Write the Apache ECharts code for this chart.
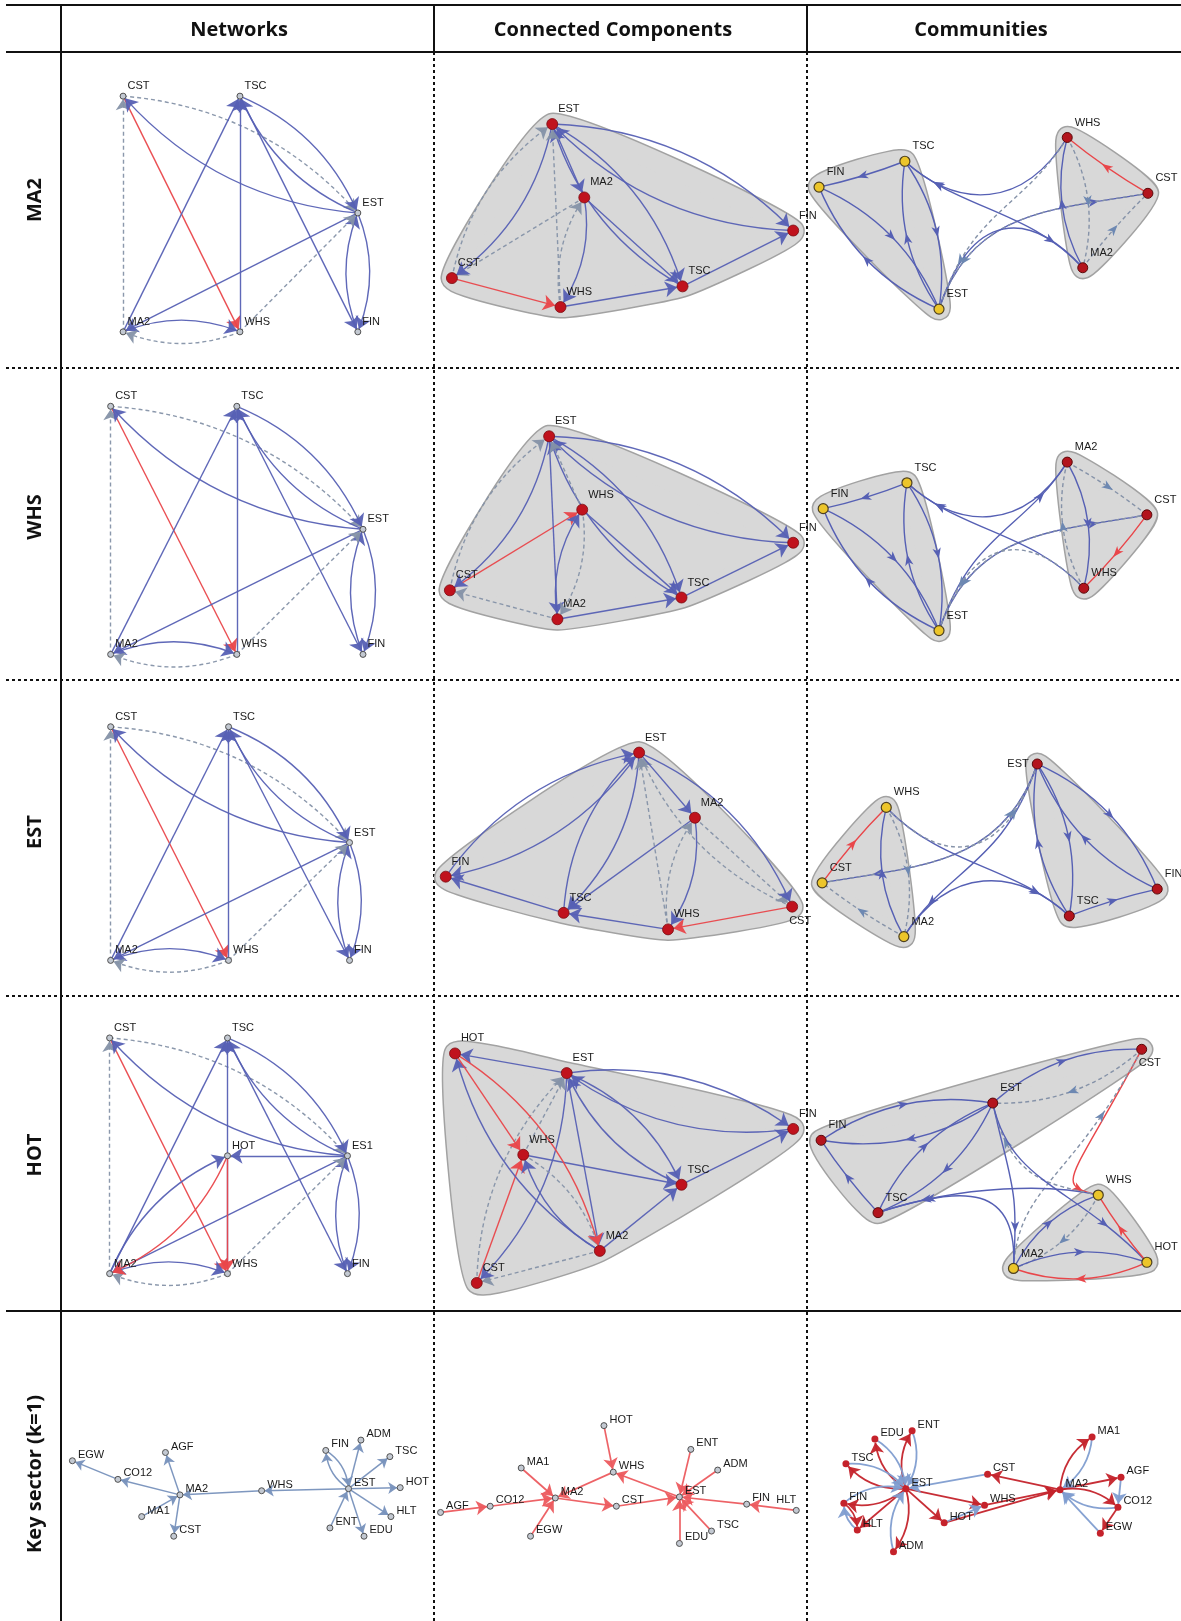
<!DOCTYPE html>
<html>
<head>
<meta charset="utf-8">
<script src="https://cdn.jsdelivr.net/npm/echarts@6/dist/echarts.min.js"></script>
<style>
  html, body { margin: 0; padding: 0; background: #fff; }
  #chart { width: 1181px; height: 1621px; }
</style>
</head>
<body>
<div id="chart"></div>
<script>

const columnTitles = ['Networks', 'Connected Components', 'Communities'];
const rowTitles = ['MA2', 'WHS', 'EST', 'HOT', 'Key sector (k=1)'];

// one network, drawn three ways per row: [source, target, kind]
const baseEdges = [
  ['CST', 'WHS', 'red'],
  ['MA2', 'CST', 'dash'],
  ['EST', 'CST', 'blue'],
  ['CST', 'EST', 'dash'],
  ['MA2', 'TSC', 'blue'],
  ['WHS', 'TSC', 'blue'],
  ['TSC', 'EST', 'blue'],
  ['EST', 'TSC', 'blue'],
  ['TSC', 'FIN', 'blue'],
  ['EST', 'FIN', 'blue'],
  ['FIN', 'EST', 'blue'],
  ['EST', 'MA2', 'blue'],
  ['WHS', 'EST', 'dash'],
  ['MA2', 'WHS', 'blue'],
  ['WHS', 'MA2', 'dash']
];
const hotExtraEdges = [
  ['EST', 'HOT', 'blue'],
  ['MA2', 'HOT', 'blue'],
  ['HOT', 'MA2', 'red'],
  ['HOT', 'WHS', 'red']
];

// Networks column
const netMA2Nodes = [['CST', 119, 93], ['TSC', 232, 93], ['EST', 346, 206], ['MA2', 119, 321], ['WHS', 232, 321], ['FIN', 346, 321]];
const netWHSNodes = [['CST', 107, 393], ['TSC', 229, 393], ['EST', 351, 512], ['MA2', 107, 633], ['WHS', 229, 633], ['FIN', 351, 633]];
const netESTNodes = [['CST', 107, 703], ['TSC', 221, 703], ['EST', 338, 815], ['MA2', 107, 929], ['WHS', 221, 929], ['FIN', 338, 929]];
const netHOTNodes = [['CST', 106, 1004], ['TSC', 220, 1004], ['HOT', 220, 1118], ['EST', 336, 1118], ['MA2', 106, 1232], ['WHS', 220, 1232], ['FIN', 336, 1232]];

// Connected Components column
const ccMA2Nodes = [['EST', 534, 120], ['MA2', 565, 191], ['CST', 437, 269], ['WHS', 542, 297], ['TSC', 660, 277], ['FIN', 767, 223]];
const ccWHSNodes = [['EST', 531, 422], ['WHS', 563, 493], ['CST', 435, 571], ['MA2', 539, 599], ['TSC', 659, 578], ['FIN', 767, 525]];
const ccESTNodes = [['EST', 618, 728], ['MA2', 672, 791], ['FIN', 431, 848], ['TSC', 545, 883], ['WHS', 646, 899], ['CST', 766, 877]];
const ccHOTNodes = [['HOT', 440, 1019], ['EST', 548, 1038], ['FIN', 767, 1092], ['WHS', 506, 1117], ['TSC', 659, 1146], ['MA2', 580, 1210], ['CST', 461, 1241]];

// Communities column: groups are [yellow community, red community]
const comMA2Nodes = [['FIN', 792, 181], ['TSC', 875, 156], ['EST', 908, 299], ['WHS', 1032, 133], ['CST', 1110, 187], ['MA2', 1047, 259]];
const comMA2Groups = [['FIN', 'TSC', 'EST'], ['WHS', 'CST', 'MA2']];
const comWHSNodes = [['FIN', 796, 492], ['TSC', 877, 467], ['EST', 908, 610], ['MA2', 1032, 447], ['CST', 1109, 498], ['WHS', 1048, 569]];
const comWHSGroups = [['FIN', 'TSC', 'EST'], ['MA2', 'CST', 'WHS']];
const comESTNodes = [['WHS', 857, 781], ['CST', 795, 854], ['MA2', 874, 906], ['EST', 1003, 739], ['TSC', 1034, 886], ['FIN', 1119, 860]];
const comESTGroups = [['WHS', 'CST', 'MA2'], ['EST', 'TSC', 'FIN']];
const comHOTNodes = [['CST', 1104, 1015], ['EST', 960, 1067], ['FIN', 794, 1103], ['TSC', 849, 1173], ['WHS', 1062, 1156], ['HOT', 1109, 1221], ['MA2', 980, 1227]];
const comHOTGroups = [['WHS', 'HOT', 'MA2'], ['CST', 'EST', 'FIN', 'TSC']];

// Key sector (k=1) row
const keyNetNodes = [['EGW', 70, 1413], ['CO12', 114, 1431], ['AGF', 160, 1405], ['MA2', 174, 1446], ['MA1', 137, 1467], ['CST', 168, 1486], ['WHS', 253, 1442],
  ['EST', 337, 1440], ['FIN', 315, 1403], ['ADM', 349, 1393], ['TSC', 377, 1409], ['HOT', 387, 1439], ['HLT', 378, 1467], ['EDU', 352, 1486], ['ENT', 319, 1478]];
const keyNetEdges = [
  ['CO12', 'EGW', 'steel'], ['MA2', 'CO12', 'steel'], ['MA2', 'AGF', 'steel'], ['MA1', 'MA2', 'steel'], ['MA2', 'CST', 'steel'],
  ['WHS', 'MA2', 'steel'], ['EST', 'WHS', 'steel'], ['EST', 'FIN', 'steel'], ['FIN', 'EST', 'steel'], ['EST', 'ADM', 'steel'],
  ['EST', 'TSC', 'steel'], ['EST', 'HOT', 'steel'], ['EST', 'HLT', 'steel'], ['EST', 'EDU', 'steel'], ['ENT', 'EST', 'steel']
];
const keyCCNodes = [['AGF', 426, 1463], ['CO12', 474, 1457], ['MA1', 504, 1420], ['MA2', 537, 1449], ['EGW', 513, 1486], ['HOT', 584, 1379], ['WHS', 593, 1424],
  ['CST', 596, 1457], ['EST', 657, 1448], ['ENT', 668, 1402], ['ADM', 694, 1422], ['FIN', 722, 1455], ['HLT', 770, 1461], ['TSC', 688, 1481], ['EDU', 657, 1493]];
const keyCCEdges = [
  ['AGF', 'CO12', 'pink'], ['CO12', 'MA2', 'pink'], ['MA1', 'MA2', 'pink'], ['EGW', 'MA2', 'pink'], ['WHS', 'MA2', 'pink'],
  ['MA2', 'CST', 'pink'], ['CST', 'EST', 'pink'], ['EST', 'WHS', 'pink'], ['HOT', 'WHS', 'pink'], ['ENT', 'EST', 'pink'],
  ['ADM', 'EST', 'pink'], ['FIN', 'EST', 'pink'], ['HLT', 'FIN', 'pink'], ['TSC', 'EST', 'pink'], ['EDU', 'EST', 'pink']
];
const keyComNodes = [['ENT', 882, 1384], ['EDU', 846, 1392], ['TSC', 818, 1416], ['FIN', 816, 1454], ['HLT', 829, 1480], ['ADM', 864, 1501], ['EST', 876, 1440],
  ['HOT', 913, 1473], ['WHS', 952, 1456], ['CST', 955, 1426], ['MA2', 1025, 1441], ['MA1', 1056, 1390], ['AGF', 1084, 1429], ['CO12', 1081, 1458], ['EGW', 1064, 1483]];
const keyComEdges = [
  ['EST', 'ENT', 'crimson'], ['EST', 'EDU', 'crimson'], ['EST', 'TSC', 'crimson'], ['EST', 'FIN', 'crimson'], ['EST', 'HLT', 'crimson'],
  ['EST', 'ADM', 'crimson'], ['EST', 'HOT', 'crimson'], ['EST', 'WHS', 'crimson'], ['HOT', 'MA2', 'crimson'], ['WHS', 'MA2', 'crimson'],
  ['MA2', 'CST', 'crimson'], ['MA2', 'MA1', 'crimson'], ['MA2', 'AGF', 'crimson'], ['MA2', 'CO12', 'crimson'], ['CO12', 'EGW', 'crimson'],
  ['FIN', 'HLT', 'crimson'],
  ['ENT', 'EST', 'ice'], ['EDU', 'EST', 'ice'], ['TSC', 'EST', 'ice'], ['FIN', 'EST', 'ice'], ['HLT', 'FIN', 'ice'], ['ADM', 'EST', 'ice'],
  ['CST', 'EST', 'ice'], ['HOT', 'WHS', 'ice'], ['MA1', 'MA2', 'ice'], ['AGF', 'CO12', 'ice'], ['EGW', 'MA2', 'ice'], ['CO12', 'MA2', 'ice']
];

// ---- styling ----
const kindStyle = {
  blue:    { color: '#5660b4', width: 1.4, type: 'solid', arrow: 12 },
  dash:    { color: '#8592a8', width: 1.4, type: [4, 3], arrow: 11 },
  red:     { color: '#e9464a', width: 1.4, type: 'solid', arrow: 12 },
  steel:   { color: '#7791bc', width: 1.5, type: 'solid', arrow: 9 },
  pink:    { color: '#ec5a5e', width: 1.7, type: 'solid', arrow: 11 },
  crimson: { color: '#c4232b', width: 1.8, type: 'solid', arrow: 11 },
  ice:     { color: '#7f9dd0', width: 1.8, type: 'solid', arrow: 11 }
};
const labelSpots = {
  ccEST: { CST: 'below' },
  comEST: { EST: 'left' },
  comHOT: { CST: 'below' },
  keyCC: { HLT: 'aboveLeft' }
};
const labelTexts = { netHOT: { EST: 'ES1' } };
const FONT = 'Liberation Sans, Arial, sans-serif';

const hollow = { color: '#c3c9d2', borderColor: '#505050', borderWidth: 1 };
const looks = {
  net: { size: 6, item: hollow, gap: 1, lift: -10, bend: 0.2 },
  cc: { size: 11, item: { color: '#c0121d', borderColor: '#7a0c12', borderWidth: 0.8 }, gap: 0, lift: -15, bend: 0.2 },
  com: { size: 10, item: {}, gap: 2, lift: -15, bend: 0.2 },
  key: { size: 6, item: hollow, gap: 2, lift: -6, bend: 0.25 },
  keyCom: { size: 7, item: { color: '#c5222b' }, gap: 2, lift: -6, bend: 0.25 }
};
const groupColors = [
  { color: '#ecc52a', borderColor: '#4d4020', borderWidth: 1.2 },
  { color: '#b3141d', borderColor: '#5a0a0a', borderWidth: 1 }
];

function hasReverse(edges, e) {
  return edges.some(o => o[0] === e[1] && o[1] === e[0]);
}

function spotLabel(spot) {
  if (spot === 'left') return { position: 'left', distance: 3, offset: [0, 0] };
  if (spot === 'below') return { position: 'bottom', distance: 3, offset: [8, 0] };
  if (spot === 'aboveLeft') return { position: 'top', distance: 1, offset: [-10, 0] };
  return undefined;
}

function graphSeries(key, nodes, edges, look, colorOf) {
  const spots = labelSpots[key] || {};
  const texts = labelTexts[key] || {};
  return {
    type: 'graph',
    coordinateSystem: 'cartesian2d',
    z: 3,
    silent: true,
    animation: false,
    symbol: 'circle',
    symbolSize: look.size,
    itemStyle: look.item,
    edgeSymbol: ['none', 'arrow'],
    lineStyle: { opacity: 0.95 },
    label: {
      show: true, position: 'right', distance: look.gap, offset: [0, look.lift],
      fontSize: 11, color: '#1a1a1a', fontFamily: FONT,
      formatter: p => texts[p.name] || p.name
    },
    data: nodes.map(n => ({
      name: n[0],
      value: [n[1], n[2]],
      label: spotLabel(spots[n[0]]),
      itemStyle: colorOf ? colorOf(n[0]) : undefined
    })),
    links: edges.map(e => {
      const s = kindStyle[e[2]];
      return {
        source: e[0], target: e[1], symbolSize: [0, s.arrow],
        lineStyle: { color: s.color, width: s.width, type: s.type, curveness: hasReverse(edges, e) ? look.bend : 0 }
      };
    })
  };
}

// ---- community rows: hulls and bundled edges ----
const comRows = [
  { key: 'comMA2', nodes: comMA2Nodes, groups: comMA2Groups, edges: baseEdges },
  { key: 'comWHS', nodes: comWHSNodes, groups: comWHSGroups, edges: baseEdges },
  { key: 'comEST', nodes: comESTNodes, groups: comESTGroups, edges: baseEdges },
  { key: 'comHOT', nodes: comHOTNodes, groups: comHOTGroups, edges: baseEdges.concat(hotExtraEdges) }
];

const hullItems = [];
[ccMA2Nodes, ccWHSNodes, ccESTNodes, ccHOTNodes].forEach(nodes => hullItems.push(nodes.map(n => [n[1], n[2]])));

const comEdgeItems = [];
comRows.forEach(r => {
  const pos = {};
  r.nodes.forEach(n => { pos[n[0]] = [n[1], n[2]]; });
  const groupOf = name => r.groups.findIndex(g => g.includes(name));
  const cents = r.groups.map(g => {
    hullItems.push(g.map(name => pos[name]));
    const sx = g.reduce((a, name) => a + pos[name][0], 0) / g.length;
    const sy = g.reduce((a, name) => a + pos[name][1], 0) / g.length;
    return [sx, sy];
  });
  const mid = [(cents[0][0] + cents[1][0]) / 2, (cents[0][1] + cents[1][1]) / 2];
  r.edges.forEach(e => comEdgeItems.push({
    from: pos[e[0]], to: pos[e[1]], kind: e[2],
    inter: groupOf(e[0]) !== groupOf(e[1]),
    rev: hasReverse(r.edges, e),
    center: mid
  }));
});

function convexHull(pts) {
  const p = pts.slice().sort((a, b) => a[0] - b[0] || a[1] - b[1]);
  const cross = (o, a, b) => (a[0] - o[0]) * (b[1] - o[1]) - (a[1] - o[1]) * (b[0] - o[0]);
  const lower = [];
  for (const q of p) {
    while (lower.length >= 2 && cross(lower[lower.length - 2], lower[lower.length - 1], q) <= 0) lower.pop();
    lower.push(q);
  }
  const upper = [];
  for (const q of p.slice().reverse()) {
    while (upper.length >= 2 && cross(upper[upper.length - 2], upper[upper.length - 1], q) <= 0) upper.pop();
    upper.push(q);
  }
  upper.pop();
  lower.pop();
  return lower.concat(upper);
}

function arrowHead(pt, tan, color) {
  const len = Math.hypot(tan[0], tan[1]) || 1;
  const d = [tan[0] / len, tan[1] / len];
  const n = [-d[1], d[0]];
  const L = 5.5, Wd = 4.2;
  return {
    type: 'polygon',
    shape: { points: [
      [pt[0] + d[0] * L, pt[1] + d[1] * L],
      [pt[0] - d[0] * L + n[0] * Wd, pt[1] - d[1] * L + n[1] * Wd],
      [pt[0] - d[0] * 2.5, pt[1] - d[1] * 2.5],
      [pt[0] - d[0] * L - n[0] * Wd, pt[1] - d[1] * L - n[1] * Wd]
    ] },
    style: { fill: color }
  };
}

function renderComEdge(params, api) {
  const e = comEdgeItems[params.dataIndex];
  const s = kindStyle[e.kind];
  const a = api.coord(e.from);
  const b = api.coord(e.to);
  let shape, pt, tan;
  if (!e.inter) {
    const c = e.rev ? 0.2 : 0.04;
    const cp = [(a[0] + b[0]) / 2 - (a[1] - b[1]) * c, (a[1] + b[1]) / 2 - (b[0] - a[0]) * c];
    shape = { x1: a[0], y1: a[1], x2: b[0], y2: b[1], cpx1: cp[0], cpy1: cp[1] };
    const t = 0.5;
    pt = [0, 1].map(i => (1 - t) * (1 - t) * a[i] + 2 * (1 - t) * t * cp[i] + t * t * b[i]);
    tan = [0, 1].map(i => 2 * (1 - t) * (cp[i] - a[i]) + 2 * t * (b[i] - cp[i]));
  } else {
    const m = api.coord(e.center);
    const c1 = [m[0] + (a[0] - m[0]) * 0.4, m[1]];
    const c2 = [m[0] + (b[0] - m[0]) * 0.4, m[1]];
    shape = { x1: a[0], y1: a[1], x2: b[0], y2: b[1], cpx1: c1[0], cpy1: c1[1], cpx2: c2[0], cpy2: c2[1] };
    const t = 0.8, u = 1 - t;
    pt = [0, 1].map(i => u * u * u * a[i] + 3 * u * u * t * c1[i] + 3 * u * t * t * c2[i] + t * t * t * b[i]);
    tan = [0, 1].map(i => 3 * u * u * (c1[i] - a[i]) + 6 * u * t * (c2[i] - c1[i]) + 3 * t * t * (b[i] - c2[i]));
  }
  return {
    type: 'group',
    children: [
      { type: 'bezierCurve', shape, style: { stroke: s.color, lineWidth: s.width, lineDash: s.type === 'solid' ? null : s.type, fill: null } },
      arrowHead(pt, tan, e.kind === 'dash' ? '#6d88b2' : s.color)
    ]
  };
}

function renderHull(params, api) {
  const pts = convexHull(hullItems[params.dataIndex].map(p => api.coord(p)));
  return {
    type: 'group',
    children: [
      { type: 'polygon', shape: { points: pts, smooth: 0.12 }, style: { fill: '#a2a2a2', stroke: '#a2a2a2', lineWidth: 23, lineJoin: 'round' } },
      { type: 'polygon', shape: { points: pts, smooth: 0.12 }, style: { fill: '#d8d8d8', stroke: '#d8d8d8', lineWidth: 20, lineJoin: 'round' } }
    ]
  };
}

// ---- series ----
const series = [
  { type: 'custom', coordinateSystem: 'cartesian2d', z: 1, silent: true, clip: false, renderItem: renderHull, data: hullItems.map(() => [0, 0]) },
  { type: 'custom', coordinateSystem: 'cartesian2d', z: 2, silent: true, clip: false, renderItem: renderComEdge, data: comEdgeItems.map(() => [0, 0]) },
  graphSeries('netMA2', netMA2Nodes, baseEdges, looks.net),
  graphSeries('netWHS', netWHSNodes, baseEdges, looks.net),
  graphSeries('netEST', netESTNodes, baseEdges, looks.net),
  graphSeries('netHOT', netHOTNodes, baseEdges.concat(hotExtraEdges), looks.net),
  graphSeries('ccMA2', ccMA2Nodes, baseEdges, looks.cc),
  graphSeries('ccWHS', ccWHSNodes, baseEdges, looks.cc),
  graphSeries('ccEST', ccESTNodes, baseEdges, looks.cc),
  graphSeries('ccHOT', ccHOTNodes, baseEdges.concat(hotExtraEdges), looks.cc),
  graphSeries('keyNet', keyNetNodes, keyNetEdges, looks.key),
  graphSeries('keyCC', keyCCNodes, keyCCEdges, looks.key),
  graphSeries('keyCom', keyComNodes, keyComEdges, looks.keyCom)
];
comRows.forEach(r => {
  series.push(graphSeries(r.key, r.nodes, [], looks.com,
    name => groupColors[r.groups.findIndex(g => g.includes(name))]));
});

// ---- table frame ----
const colLines = [61, 434, 807];
const rowLines = [368, 680, 996];
const graphics = [];
const ink = '#111';
const hLine = (y, dash) => ({ type: 'line', shape: { x1: 6, y1: y, x2: 1181, y2: y }, style: { stroke: ink, lineWidth: 2, lineDash: dash } });
graphics.push(hLine(5, null), hLine(52, null), hLine(1311, null));
rowLines.forEach(y => graphics.push(hLine(y, [3, 3])));
graphics.push({ type: 'line', shape: { x1: 61, y1: 5, x2: 61, y2: 1621 }, style: { stroke: ink, lineWidth: 2 } });
colLines.slice(1).forEach(x => {
  graphics.push({ type: 'line', shape: { x1: x, y1: 5, x2: x, y2: 52 }, style: { stroke: ink, lineWidth: 2 } });
  graphics.push({ type: 'line', shape: { x1: x, y1: 52, x2: x, y2: 1621 }, style: { stroke: ink, lineWidth: 2, lineDash: [3, 3] } });
});
const titleX = [239, 613, 981];
columnTitles.forEach((t, i) => graphics.push({
  type: 'text', x: titleX[i], y: 30,
  style: { text: t, font: 'bold 20px "Open Sans", sans-serif', fill: ink, textAlign: 'center', textVerticalAlign: 'middle' }
}));
const rowLabelY = [200, 517, 832, 1155, 1474];
rowTitles.forEach((t, i) => graphics.push({
  type: 'text', x: 35, y: rowLabelY[i], rotation: Math.PI / 2,
  style: { text: t, font: 'bold 20px "Open Sans", sans-serif', fill: ink, textAlign: 'center', textVerticalAlign: 'middle' }
}));

const chart = echarts.init(document.getElementById('chart'), null, { renderer: 'canvas', width: 1181, height: 1621 });
chart.setOption({
  animation: false,
  backgroundColor: '#fff',
  grid: { left: 0, right: 0, top: 0, bottom: 0 },
  xAxis: { type: 'value', min: 0, max: 1142, show: false },
  yAxis: { type: 'value', min: 0, max: 1568, inverse: true, show: false },
  graphic: graphics,
  series: series
});
</script>
</body>
</html>
